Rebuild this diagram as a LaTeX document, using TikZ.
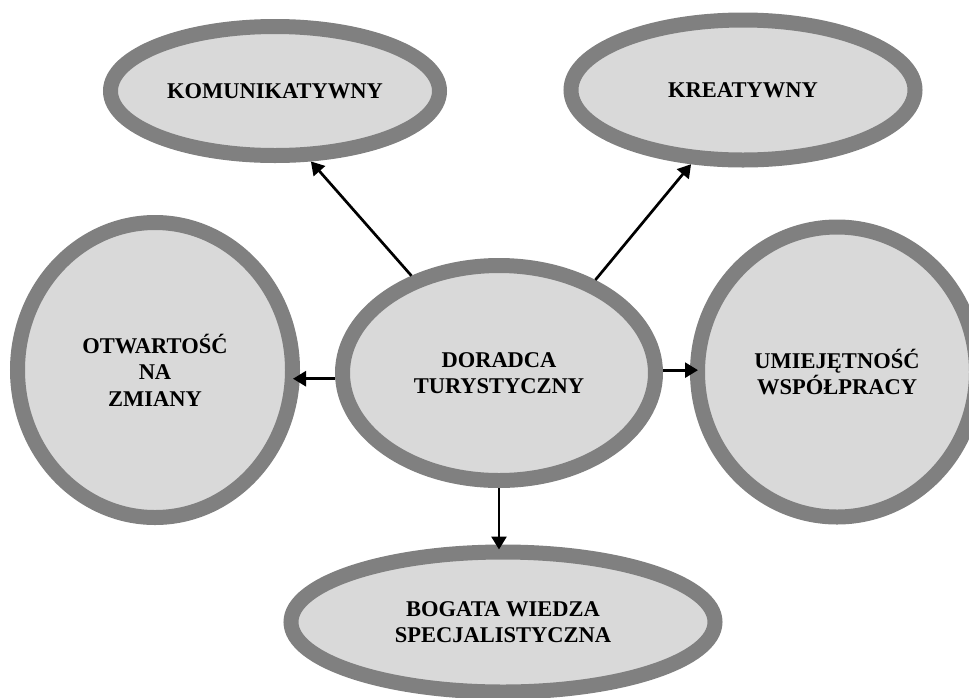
\documentclass[tikz,border=0pt]{standalone}
\usepackage{fontspec}
\setmainfont{Liberation Serif}
\usepackage{tikz}
\usetikzlibrary{shapes.geometric,arrows.meta}

\begin{document}
\begin{tikzpicture}[x=1pt,y=-1pt,
  cecha/.style={ellipse,draw=black!50,fill=black!15,line width=15pt,inner sep=0pt,align=center,
    font=\fontsize{22.5}{26.5}\selectfont\bfseries},
  strzalka/.style={-{Triangle[length=13pt,width=15pt]},line width=2.7pt,black}]
\useasboundingbox (0,0) rectangle (969,697);
\clip (0,0) rectangle (969,697);
\node [cecha,minimum width=329pt,minimum height=129pt] (kom) at (275,91) {KOMUNIKATYWNY};
\node [cecha,minimum width=344pt,minimum height=140pt] (kre) at (743,90) {KREATYWNY};
\node [cecha,minimum width=275pt,minimum height=295pt] (otw) at (155,370) {OTWARTOŚĆ\\NA\\ZMIANY};
\node [cecha,minimum width=313pt,minimum height=215pt] (dor) at (499,373) {DORADCA\\TURYSTYCZNY};
\node [cecha,minimum width=279pt,minimum height=290pt] (umi) at (837,372) {UMIEJĘTNOŚĆ\\WSPÓŁPRACY};
\node [cecha,minimum width=424pt,minimum height=140pt] (bog) at (503,622) {BOGATA WIEDZA\\SPECJALISTYCZNA};
\draw [strzalka] (dor.132) -- (kom.297);
\draw [strzalka] (dor.44) -- (kre.235);
\draw [strzalka,shorten >=-7pt] (dor.182) -- (dor.182 -| otw.east);
\draw [strzalka,shorten >=-8pt] (dor.1) -- (dor.1 -| umi.west);
\draw [strzalka,shorten >=-5pt] (dor.south) -- (dor.south |- bog.north);
\end{tikzpicture}
\end{document}
